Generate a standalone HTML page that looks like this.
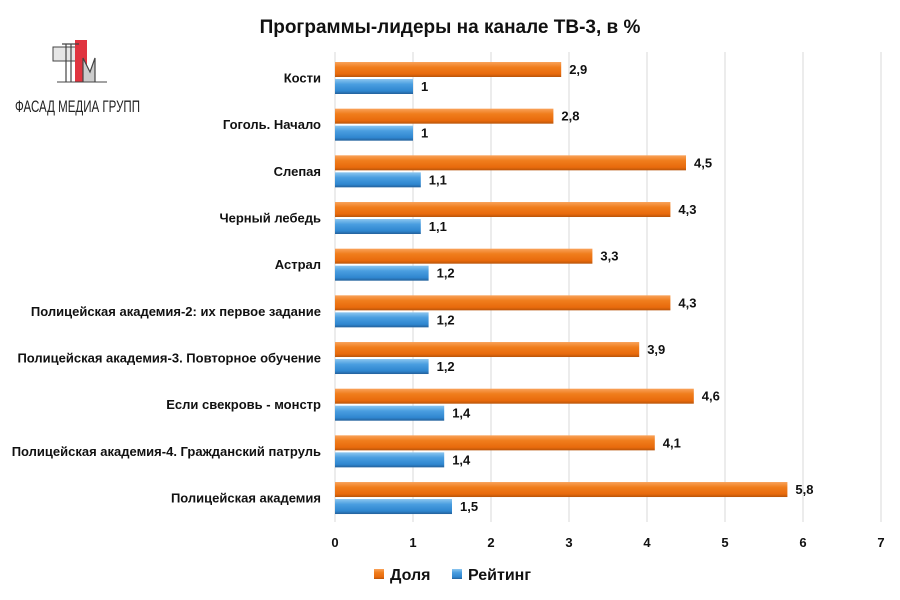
<!DOCTYPE html>
<html><head><meta charset="utf-8"><style>
body{margin:0;background:#fff}
svg{display:block;font-family:"Liberation Sans","DejaVu Sans",sans-serif}
</style></head><body>
<svg width="900" height="600" viewBox="0 0 900 600" xmlns="http://www.w3.org/2000/svg">
<defs>
<linearGradient id="o" x1="0" y1="0" x2="0" y2="1">
<stop offset="0" stop-color="#f9a25a"/><stop offset="0.35" stop-color="#f07d1c"/><stop offset="0.8" stop-color="#e86a0c"/><stop offset="1" stop-color="#b8540a"/></linearGradient>
<linearGradient id="b" x1="0" y1="0" x2="0" y2="1">
<stop offset="0" stop-color="#8cc6ef"/><stop offset="0.35" stop-color="#4a9ee0"/><stop offset="0.8" stop-color="#2f86cf"/><stop offset="1" stop-color="#23609a"/></linearGradient>
</defs>
<rect width="900" height="600" fill="#fff"/>
<text x="450" y="33" text-anchor="middle" font-size="19" font-weight="bold" fill="#111">Программы-лидеры на канале ТВ-3, в %</text>
<!-- logo -->
<g>
<rect x="53" y="47" width="30" height="14" fill="#e6e6e6" stroke="#444" stroke-width="1"/>
<rect x="75" y="40" width="12" height="42" fill="#e0343f"/>
<line x1="66" y1="44" x2="66" y2="82" stroke="#444" stroke-width="1.2"/>
<line x1="71" y1="44" x2="71" y2="82" stroke="#444" stroke-width="1.2"/>
<line x1="62" y1="44" x2="79" y2="44" stroke="#444" stroke-width="1.2"/>
<path d="M83 82 V58 L90 72 L95 58 V82" fill="#ccc" stroke="#444" stroke-width="1.2"/>
<line x1="57" y1="82" x2="107" y2="82" stroke="#444" stroke-width="1"/>
<text x="15" y="112" font-size="17" fill="#222" textLength="125" lengthAdjust="spacingAndGlyphs">ФАСАД МЕДИА ГРУПП</text>
</g>
<!-- grid -->
<g stroke="#d9d9d9" stroke-width="1">
<line x1="413" y1="52" x2="413" y2="522"/><line x1="491" y1="52" x2="491" y2="522"/>
<line x1="569" y1="52" x2="569" y2="522"/><line x1="647" y1="52" x2="647" y2="522"/>
<line x1="725" y1="52" x2="725" y2="522"/><line x1="803" y1="52" x2="803" y2="522"/>
<line x1="881" y1="52" x2="881" y2="522"/>
</g>
<line x1="335" y1="52" x2="335" y2="522" stroke="#d9d9d9"/>
<g font-size="13" font-weight="bold" fill="#111" text-anchor="middle">
<text x="335" y="547">0</text><text x="413" y="547">1</text><text x="491" y="547">2</text><text x="569" y="547">3</text><text x="647" y="547">4</text><text x="725" y="547">5</text><text x="803" y="547">6</text><text x="881" y="547">7</text>
</g>
<g id="bars" font-size="13" font-weight="bold" fill="#111"></g>
<g font-size="16" font-weight="bold" fill="#111">
<rect x="374" y="569" width="10" height="10" fill="url(#o)"/><text x="390" y="580">Доля</text>
<rect x="452" y="569" width="10" height="10" fill="url(#b)"/><text x="468" y="580">Рейтинг</text>
</g>
</svg>
<script>
var d=[["Кости",2.9,1,"2,9","1"],["Гоголь. Начало",2.8,1,"2,8","1"],["Слепая",4.5,1.1,"4,5","1,1"],["Черный лебедь",4.3,1.1,"4,3","1,1"],["Астрал",3.3,1.2,"3,3","1,2"],["Полицейская академия-2: их первое задание",4.3,1.2,"4,3","1,2"],["Полицейская академия-3. Повторное обучение",3.9,1.2,"3,9","1,2"],["Если свекровь - монстр",4.6,1.4,"4,6","1,4"],["Полицейская академия-4. Гражданский патруль",4.1,1.4,"4,1","1,4"],["Полицейская академия",5.8,1.5,"5,8","1,5"]];
var g=document.getElementById("bars"),s="";
d.forEach(function(r,i){var c=78+i*46.67;
s+='<text x="321" y="'+(c+4.5)+'" text-anchor="end">'+r[0]+'</text>';
s+='<rect x="335" y="'+(c-16)+'" width="'+(r[1]*78)+'" height="15" fill="url(#o)"/>';
s+='<rect x="335" y="'+(c+1)+'" width="'+(r[2]*78)+'" height="15" fill="url(#b)"/>';
s+='<text x="'+(335+r[1]*78+8)+'" y="'+(c-4)+'">'+r[3]+'</text>';
s+='<text x="'+(335+r[2]*78+8)+'" y="'+(c+13)+'">'+r[4]+'</text>';});
g.innerHTML=s;
</script>
</body></html>
